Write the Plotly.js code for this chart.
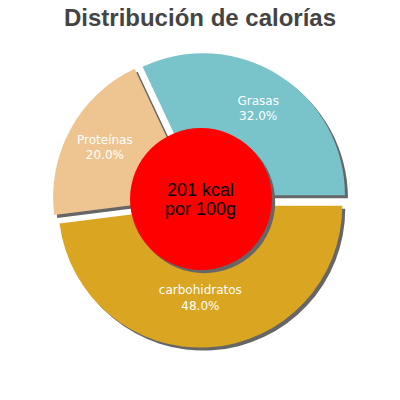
<!DOCTYPE html>
<html>
<head>
<meta charset="utf-8">
<script src="https://cdn.plot.ly/plotly-3.0.1.min.js"></script>
<style>
  html, body { margin: 0; padding: 0; background: #fff; }
  #chart { width: 400px; height: 400px; }
</style>
</head>
<body>
<div id="chart"></div>
<script>
// Distribución de calorías (por 100g)
const labels = ['Grasas', 'carbohidratos', 'Proteínas'];
const values = [32, 48, 20];
const colors = ['#79c3cb', '#daa520', '#eec591'];
const energyText = ['201 kcal', 'por 100g'];

const PULL = 0.04;
const HOLE = 0.45;
const SHADOW = 0.0075;   // ~3px offset
const DOM = [0.131, 0.869];

const shadow = {
    type: 'pie',
    values: values,
    labels: labels,
    sort: false,
    direction: 'clockwise',
    rotation: -25.2,
    hole: HOLE,
    pull: values.map(() => PULL),
    marker: { colors: values.map(() => '#666666'), line: { width: 0 } },
    textinfo: 'none',
    hoverinfo: 'skip',
    showlegend: false,
    domain: { x: [DOM[0] + SHADOW, DOM[1] + SHADOW], y: [DOM[0] - SHADOW, DOM[1] - SHADOW] },
};

const pie = {
    type: 'pie',
    values: values,
    labels: labels,
    sort: false,
    direction: 'clockwise',
    rotation: -25.2,
    hole: HOLE,
    pull: values.map(() => PULL),
    marker: { colors: colors, line: { width: 0 } },
    texttemplate: '%{label}<br>%{percent:.1%}',
    textposition: 'inside',
    insidetextorientation: 'horizontal',
    textfont: { family: 'DejaVu Sans, sans-serif', size: 12, color: '#ffffff' },
    showlegend: false,
    domain: { x: DOM, y: DOM },
};

const centreFont = { family: 'Liberation Sans, Arial, sans-serif', size: 18, color: '#000000' };

const layout = {
    width: 400,
    height: 400,
    margin: { t: 0, r: 0, b: 0, l: 0 },
    paper_bgcolor: '#ffffff',
    title: {
        text: '<b>Distribución de calorías</b>',
        font: { family: 'Liberation Sans, Arial, sans-serif', size: 24, color: '#444444' },
        x: 0.5, xanchor: 'center', y: 0.955, yanchor: 'middle',
    },
    shapes: [
        // centre disc shadow + disc
        { type: 'circle', xref: 'paper', yref: 'paper', x0: 0.333, x1: 0.688, y0: 0.317, y1: 0.672,
          fillcolor: '#666666', line: { width: 0 }, layer: 'above' },
        { type: 'circle', xref: 'paper', yref: 'paper', x0: 0.325, x1: 0.68, y0: 0.325, y1: 0.68,
          fillcolor: '#ff0000', line: { width: 0 }, layer: 'above' },
    ],
    annotations: [
        { xref: 'paper', yref: 'paper', x: 0.5025, y: 0.525, showarrow: false,
          text: energyText[0], font: centreFont },
        { xref: 'paper', yref: 'paper', x: 0.5025, y: 0.478, showarrow: false,
          text: energyText[1], font: centreFont },
    ],
};

Plotly.newPlot('chart', [shadow, pie], layout, { staticPlot: true, displayModeBar: false });
</script>
</body>
</html>
